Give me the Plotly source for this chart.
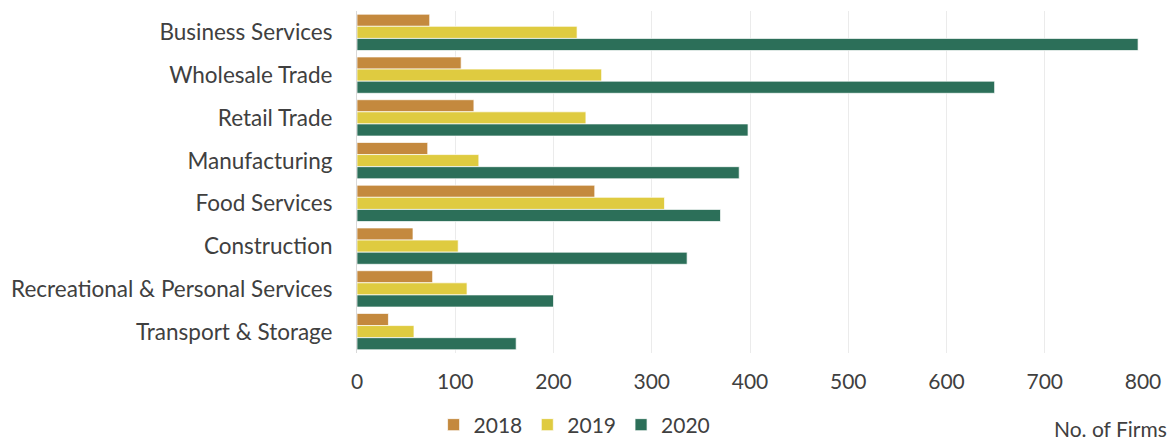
import plotly.graph_objects as go

categories = ["Business Services", "Wholesale Trade", "Retail Trade", "Manufacturing",
              "Food Services", "Construction", "Recreational & Personal Services",
              "Transport & Storage"]
years = ["2018", "2019", "2020"]
v2018 = [74, 106, 119, 72, 242, 57, 77, 32]
v2019 = [224, 249, 233, 124, 313, 103, 112, 58]
v2020 = [795, 649, 398, 389, 370, 336, 200, 162]
colors = ["#C4893E", "#DFCB40", "#2C6F59"]
tick_vals = [0, 100, 200, 300, 400, 500, 600, 700, 800]

FONT = "Lato, 'Open Sans', sans-serif"
TXT = "#404040"

fig = go.Figure()
for name, vals, col in zip(years, [v2018, v2019, v2020], colors):
    fig.add_trace(go.Bar(
        y=categories, x=vals, name=name, orientation="h",
        marker=dict(color=col, line=dict(color="rgba(255,255,255,0.7)", width=1)),
    ))

fig.update_layout(
    width=1175, height=441,
    margin=dict(l=357, r=32, t=11, b=88, autoexpand=False),
    barmode="group", bargap=0.15, bargroupgap=0,
    plot_bgcolor="white", paper_bgcolor="white",
    font=dict(family=FONT, size=20, color=TXT),
    xaxis=dict(range=[0, 800], tickvals=tick_vals, showgrid=True, gridcolor="#EBEBEB",
               gridwidth=1, zeroline=False, showline=False, ticks="",
               ticklabelstandoff=14, automargin=False,
               tickfont=dict(size=21, color=TXT)),
    yaxis=dict(autorange="reversed", showline=True, linecolor="#D9D9D9", linewidth=1,
               ticks="", ticklabelstandoff=19, automargin=False,
               tickfont=dict(size=22.5, color=TXT)),
    legend=dict(orientation="h", xref="container", yref="paper",
                x=0.489, xanchor="center", y=(353 - 425) / 342, yanchor="middle",
                font=dict(size=21, color=TXT), itemwidth=30, traceorder="normal",
                bgcolor="rgba(0,0,0,0)"),
    annotations=[dict(text="No. of Firms", xref="paper", yref="paper",
                      x=(1169 - 357) / 786, y=(353 - 428) / 342,
                      xanchor="right", yanchor="middle", showarrow=False,
                      font=dict(size=21, color=TXT))],
)

fig.write_html("out.html")
